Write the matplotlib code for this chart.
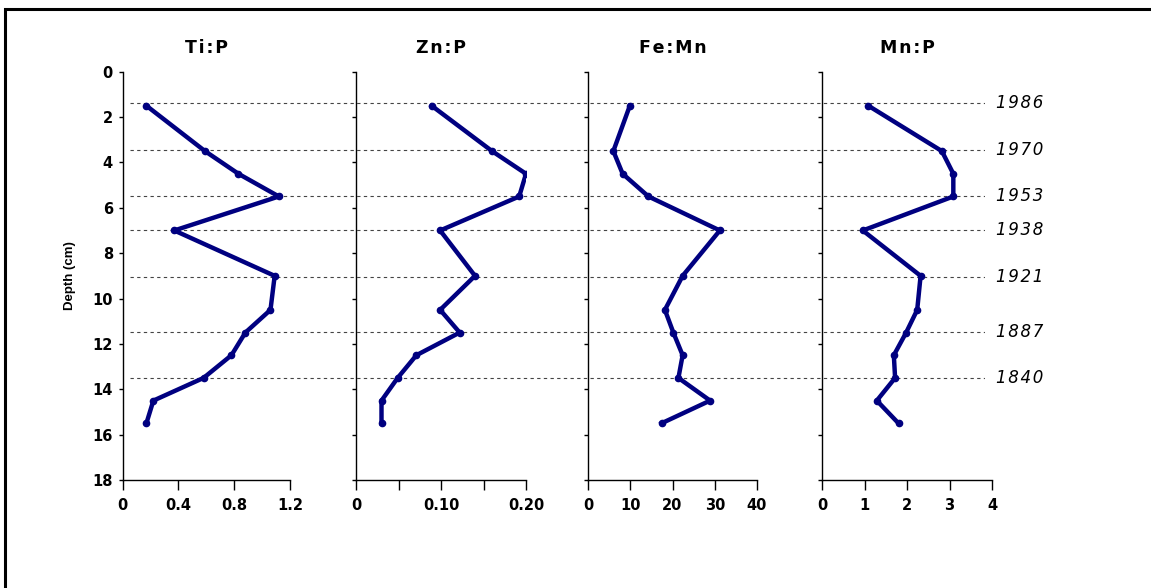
import matplotlib
matplotlib.use('Agg')
from matplotlib import pyplot as plt
from matplotlib.patches import Rectangle

depth = [1.5, 3.5, 4.5, 5.5, 7.0, 9.0, 10.5, 11.5, 12.5, 13.5, 14.5, 15.5]
ti_p = [0.17, 0.59, 0.83, 1.12, 0.37, 1.09, 1.06, 0.88, 0.78, 0.58, 0.22, 0.17]
zn_p = [0.089, 0.160, 0.200, 0.192, 0.099, 0.140, 0.099, 0.122, 0.071, 0.049, 0.030, 0.030]
fe_mn = [9.9, 6.0, 8.2, 14.3, 31.2, 22.4, 18.2, 20.2, 22.4, 21.4, 28.9, 17.4]
mn_p = [1.09, 2.82, 3.09, 3.09, 0.96, 2.32, 2.24, 1.98, 1.69, 1.72, 1.29, 1.80]

titles = ['Ti:P', 'Zn:P', 'Fe:Mn', 'Mn:P']
x_limits = [(0, 1.2), (0, 0.20), (0, 40), (0, 4)]
x_ticks = [[0, 0.4, 0.8, 1.2], [0, 0.05, 0.10, 0.15, 0.20], [0, 10, 20, 30, 40], [0, 1, 2, 3, 4]]
x_ticklabels = [['0', '0.4', '0.8', '1.2'], ['0', '', '0.10', '', '0.20'],
                ['0', '10', '20', '30', '40'], ['0', '1', '2', '3', '4']]

year_depths = [1.4, 3.45, 5.47, 7.0, 9.04, 11.46, 13.52]
years = ['1986', '1970', '1953', '1938', '1921', '1887', '1840']

W, H = 1151, 588
font = 'DejaVu Sans'
navy = '#000080'
# the original text is loosely letter-spaced
spaced = lambda s, sep='\u2009': sep.join(s)

fig = plt.figure(figsize=(W / 100, H / 100), dpi=100)

# frame around the figure (only top/left visible in the original)
fig.add_artist(Rectangle((5 / W, -0.05), 1.2, 1 - 9 / H + 0.05, transform=fig.transFigure,
                         fill=False, edgecolor='black', linewidth=2.2))

top, bottom = 71.7, 480
lefts = [122.7, 356, 588, 822]
rights = [290, 526, 757, 992]
series = [ti_p, zn_p, fe_mn, mn_p]

axes = []
for i in range(4):
    ax = fig.add_axes([lefts[i] / W, 1 - bottom / H, (rights[i] - lefts[i]) / W, (bottom - top) / H])
    ax.plot(series[i], depth, color=navy, linewidth=3.2, marker='o', markersize=4.5, zorder=3)
    ax.set_xlim(*x_limits[i])
    ax.set_ylim(18, 0)
    ax.set_xticks(x_ticks[i])
    ax.set_xticklabels(x_ticklabels[i])
    ax.set_yticks(range(0, 19, 2))
    ax.spines['top'].set_visible(False)
    ax.spines['right'].set_visible(False)
    ax.spines['left'].set_linewidth(1.0)
    ax.spines['bottom'].set_linewidth(1.0)
    ax.tick_params(axis='x', direction='out', length=7, width=1, pad=6, labelsize=10.5)
    ax.tick_params(axis='y', direction='out', length=3, width=1, labelsize=10.5, pad=4)
    for lab in ax.get_xticklabels() + ax.get_yticklabels():
        lab.set_fontfamily(font)
        lab.set_fontweight('bold')
    if i > 0:
        ax.set_yticklabels([])
    ax.patch.set_alpha(0)
    fig.text((lefts[i] + rights[i]) / 2 / W, 1 - 48 / H, spaced(titles[i], '\u200a'),
             ha='center', va='center', fontsize=12.5, fontweight='bold', family=font)
    axes.append(ax)

axes[0].set_ylabel('Depth (cm)', family=['Liberation Sans Narrow', 'Liberation Sans'],
                   fontweight='bold', fontsize=9.5, labelpad=12)

# dashed dating horizons across all panels
ov = fig.add_axes([130 / W, 1 - bottom / H, (985 - 130) / W, (bottom - top) / H], zorder=-1)
ov.set_xlim(0, 1)
ov.set_ylim(18, 0)
ov.axis('off')
for d, y in zip(year_depths, years):
    ov.plot([0, 1], [d, d], color='#444444', linewidth=0.8, linestyle=(0, (3, 3)))
    ov.text(1 + 11 / 855, d, spaced(y, '\u200a'), ha='left', va='center', fontsize=12,
            style='italic', family=font, clip_on=False)

fig.savefig('out.png', dpi=100)
